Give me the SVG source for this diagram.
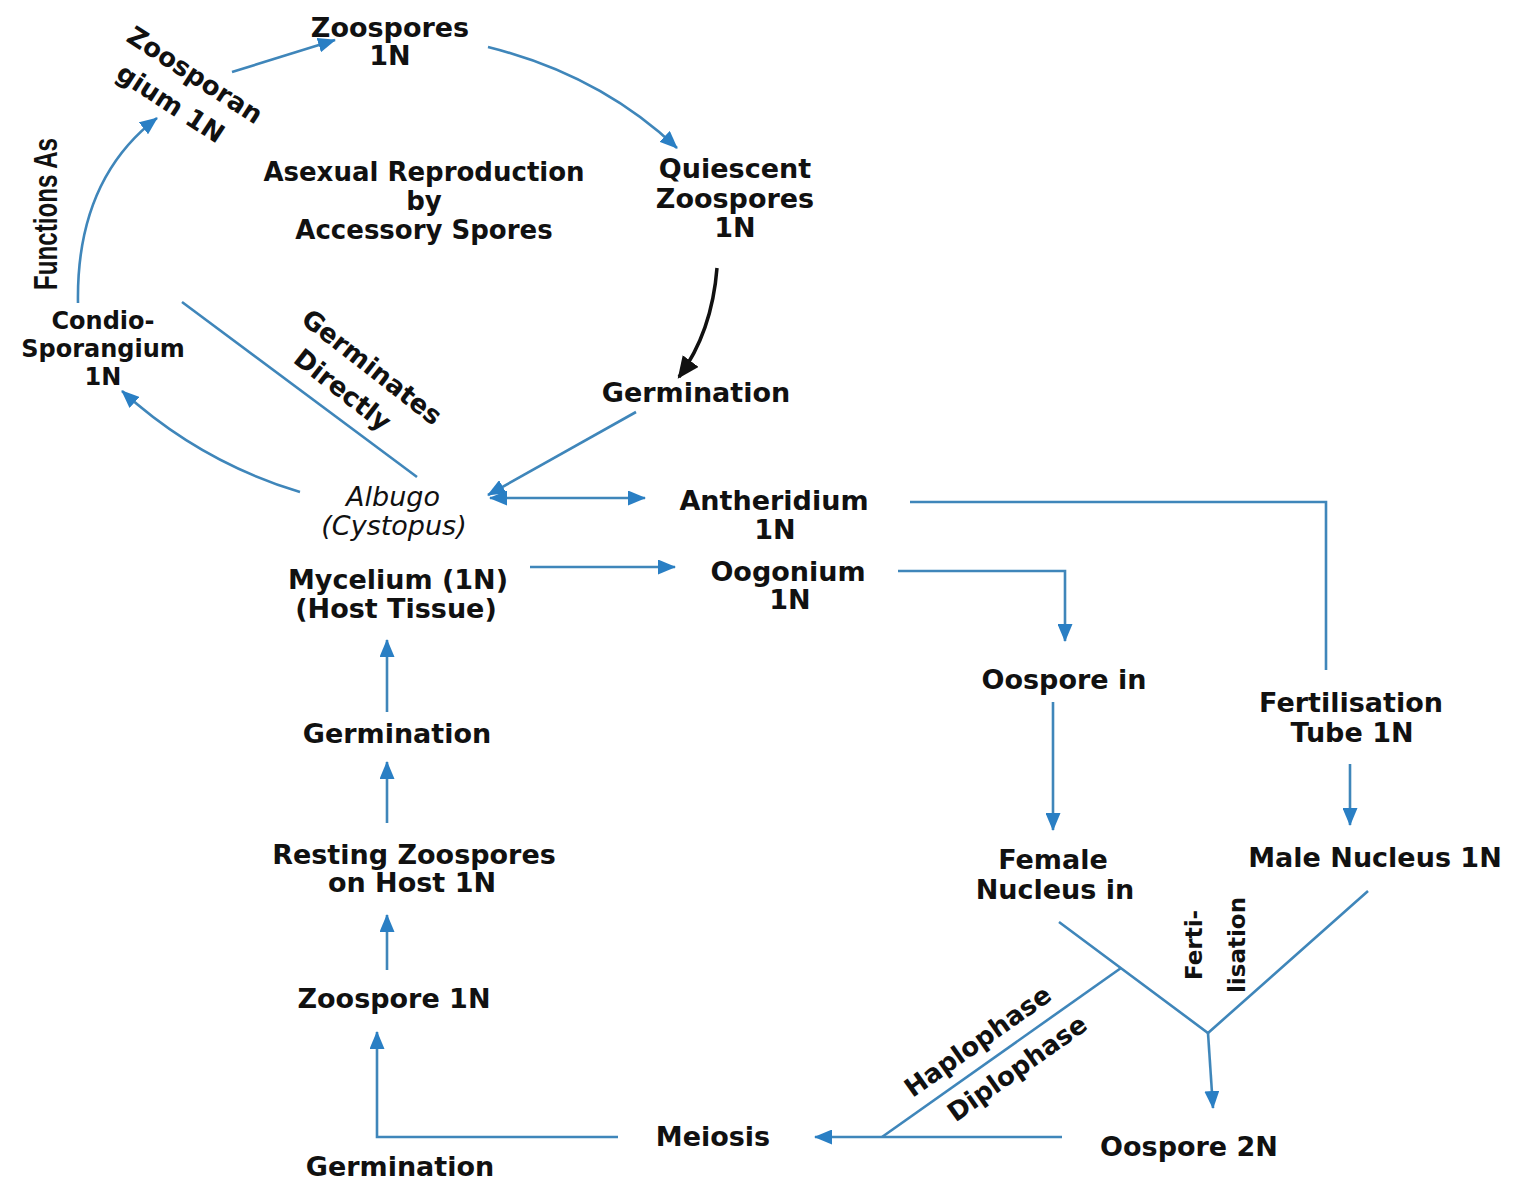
<svg xmlns="http://www.w3.org/2000/svg" width="1521" height="1179" viewBox="0 0 1521 1179">
<style>
text{font-family:"DejaVu Sans","Liberation Sans",Arial,sans-serif;font-size:27px;font-weight:bold;fill:#111;text-anchor:middle}
.it{font-style:italic;font-weight:normal;font-size:27px}
.sm{font-size:23px}
.md{font-size:26px}
.cd{font-size:24px}
.cond{font-family:"Liberation Sans",Arial,sans-serif;font-weight:bold;font-size:33px}
.ln{fill:none;stroke:#3f86ba;stroke-width:2.6}
.ar{marker-end:url(#ah)}
.bk{fill:none;stroke:#111;stroke-width:3.5;marker-end:url(#ahk)}
</style>
<defs>
<marker id="ah" viewBox="0 0 18 15" refX="17" refY="7.5" markerWidth="18" markerHeight="15" orient="auto-start-reverse" markerUnits="userSpaceOnUse"><path d="M0,0 L18,7.5 L0,15 z" fill="#2a7fc4"/></marker>
<marker id="ahk" viewBox="0 0 20 18" refX="18" refY="9" markerWidth="22" markerHeight="20" orient="auto" markerUnits="userSpaceOnUse"><path d="M0,0 L20,9 L0,18 z" fill="#111"/></marker>
</defs>
<rect width="1521" height="1179" fill="#fff"/>
<g id="connectors">
<path class="ln ar" d="M232,72 L335,40"/>
<path class="ln ar" d="M488,47 Q600,75 677,148"/>
<path class="bk" d="M717,268 Q712,332 679,377"/>
<path class="ln ar" d="M636,412 L488,495"/>
<path class="ln" d="M490,498 L645,498" style="marker-start:url(#ah);marker-end:url(#ah)"/>
<path class="ln ar" d="M530,567 L675,567"/>
<path class="ln ar" d="M300,492 Q200,462 122,391"/>
<path class="ln ar" d="M78,303 Q76,180 157,118"/>
<path class="ln" d="M182,302 L417,477"/>
<path class="ln" d="M910,502 L1326,502 L1326,670"/>
<path class="ln ar" d="M898,571 L1065,571 L1065,641"/>
<path class="ln ar" d="M1053,702 L1053,830"/>
<path class="ln ar" d="M1350,764 L1350,825"/>
<path class="ln" d="M1059,922 L1208,1033 L1368,891"/>
<path class="ln ar" d="M1208,1033 L1213,1108"/>
<path class="ln" d="M1121,968 L882,1137"/>
<path class="ln ar" d="M1062,1137 L815,1137"/>
<path class="ln ar" d="M618,1137 L377,1137 L377,1032"/>
<path class="ln ar" d="M387,970 L387,915"/>
<path class="ln ar" d="M387,823 L387,762"/>
<path class="ln ar" d="M387,712 L387,640"/>
</g>
<g id="zoospores"><text x="390" y="37">Zoospores</text><text x="390" y="65">1N</text></g>
<g id="zoosporangium" transform="translate(195,75) rotate(33)"><text class="md" x="0" y="9">Zoosporan</text><text class="md" x="-5" y="46">gium 1N</text></g>
<g id="functions-as" transform="translate(57,214) rotate(-90)"><text class="cond" x="0" y="0" textLength="152" lengthAdjust="spacingAndGlyphs">Functions As</text></g>
<g id="asexual"><text class="md" x="424" y="181">Asexual Reproduction</text><text class="md" x="424" y="210">by</text><text class="md" x="424" y="239">Accessory Spores</text></g>
<g id="quiescent"><text x="735" y="178">Quiescent</text><text x="735" y="208">Zoospores</text><text x="735" y="237">1N</text></g>
<g id="germination-top"><text x="696" y="402">Germination</text></g>
<g id="condio"><text class="cd" x="103" y="329">Condio-</text><text class="cd" x="103" y="357">Sporangium</text><text class="cd" x="103" y="385">1N</text></g>
<g id="germinates" transform="translate(372,367) rotate(38)"><text class="md" x="0" y="9">Germinates</text><text class="md" x="-9" y="45">Directly</text></g>
<g id="albugo"><text class="it" x="393" y="506">Albugo</text><text class="it" x="394" y="535">(Cystopus)</text></g>
<g id="mycelium"><text x="398" y="589">Mycelium (1N)</text><text x="396" y="618">(Host Tissue)</text></g>
<g id="antheridium"><text x="774" y="510">Antheridium</text><text x="775" y="539">1N</text></g>
<g id="oogonium"><text x="788" y="581">Oogonium</text><text x="790" y="609">1N</text></g>
<g id="oospore-in"><text x="1064" y="689">Oospore in</text></g>
<g id="fert-tube"><text x="1351" y="712">Fertilisation</text><text x="1352" y="742">Tube 1N</text></g>
<g id="female"><text x="1053" y="869">Female</text><text x="1055" y="899">Nucleus in</text></g>
<g id="male"><text x="1375" y="867">Male Nucleus 1N</text></g>
<g id="fertilisation" transform="translate(1202,945) rotate(-90)"><text class="sm" x="0" y="0">Ferti-</text><text class="sm" x="0" y="43">lisation</text></g>
<g id="haplophase" transform="translate(991,1060) rotate(-35.2)"><text class="md" x="0" y="-14">Haplophase</text></g>
<g id="diplophase" transform="translate(1005,1051) rotate(-35.2)"><text class="md" x="0" y="30">Diplophase</text></g>
<g id="oospore-2n"><text x="1189" y="1156">Oospore 2N</text></g>
<g id="meiosis"><text x="713" y="1146">Meiosis</text></g>
<g id="germination-bottom"><text x="400" y="1176">Germination</text></g>
<g id="zoospore-1n"><text x="394" y="1008">Zoospore 1N</text></g>
<g id="resting"><text x="414" y="864">Resting Zoospores</text><text x="412" y="892">on Host 1N</text></g>
<g id="germination-mid"><text x="397" y="743">Germination</text></g>
</svg>
